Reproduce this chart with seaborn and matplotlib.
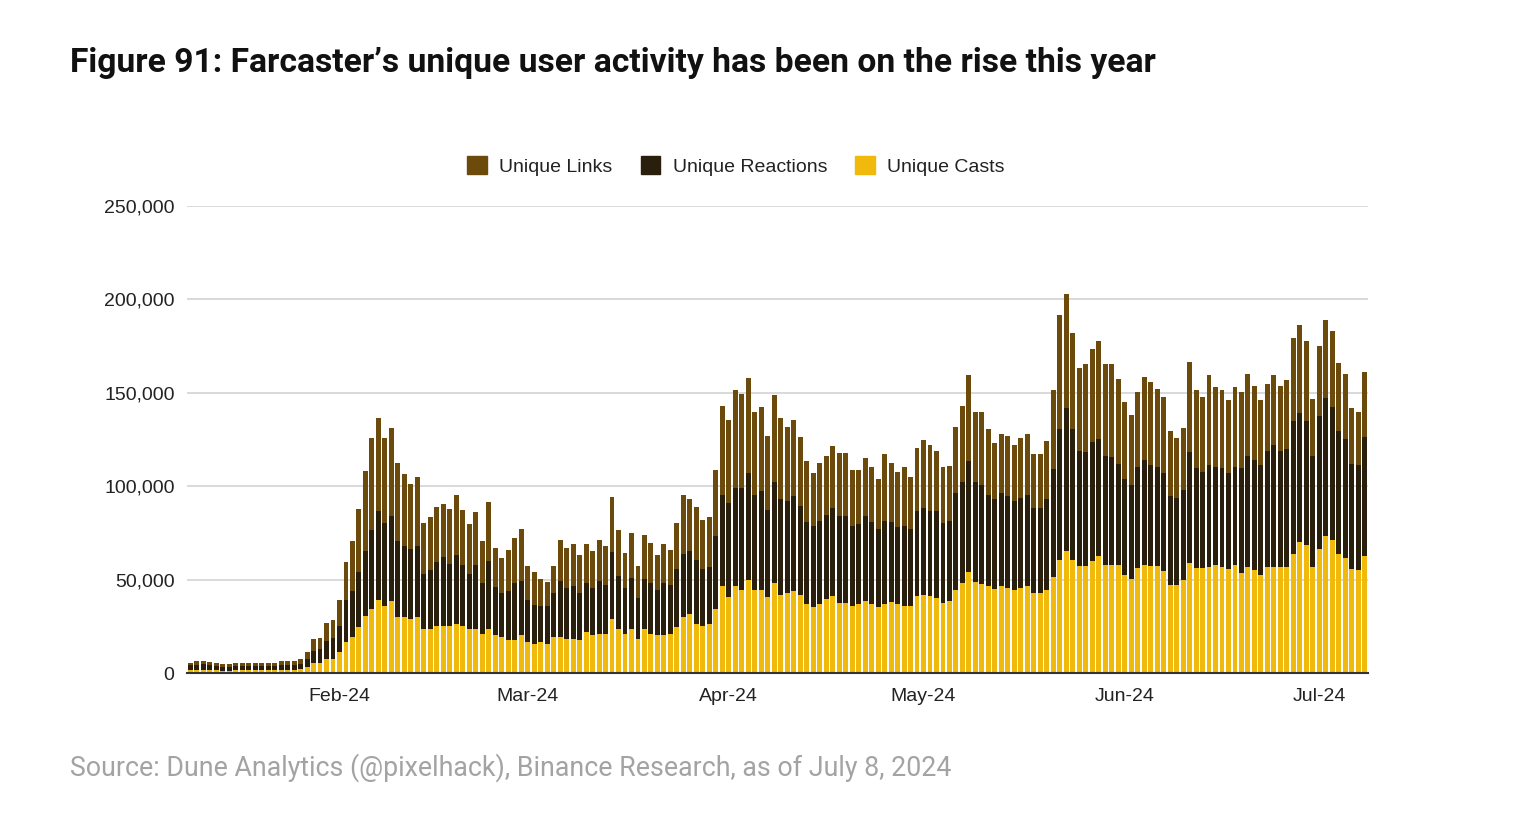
import numpy as np
import pandas as pd
import matplotlib
matplotlib.use("Agg")
import matplotlib.pyplot as plt
import matplotlib.patches as mpatches
from matplotlib.ticker import FuncFormatter
import seaborn as sns

# ---------------- data ----------------
start_date = "2024-01-09"
end_date = "2024-07-08"

unique_casts = [
    1400, 1500, 1500, 1400, 1400, 1300, 1300, 1400, 1400, 1400, 1400, 1400, 1400, 1500, 1600, 1600, 1600, 2300, 3400, 5200,
    5200, 7500, 7500, 11300, 16600, 19300, 24600, 30700, 34300, 39300, 36100, 38400, 29800, 29800, 28900, 29800, 23600, 23600, 25400, 25400,
    25400, 26300, 25400, 23600, 23600, 21100, 23600, 20200, 19300, 17500, 17500, 20200, 16600, 15700, 16600, 15700, 19300, 19300, 18400, 18400,
    17500, 22000, 20200, 21100, 21100, 28900, 23600, 21100, 23600, 18400, 23600, 21100, 20200, 20200, 21100, 24600, 29800, 31600, 26300, 25400,
    26300, 34300, 46400, 40500, 46400, 44600, 50000, 44600, 44600, 40500, 48200, 42000, 42900, 43800, 42000, 37000, 35400, 37000, 39600, 41100,
    37500, 37500, 36100, 37000, 38400, 37000, 35400, 37000, 37900, 37000, 36100, 36100, 41200, 42000, 41100, 40200, 37500, 38400, 44600, 48200,
    53900, 48600, 47700, 46400, 45000, 46400, 45500, 44600, 45500, 46400, 42900, 42900, 44600, 51400, 60700, 65200, 60700, 57100, 57100, 59800,
    62500, 58000, 58000, 58000, 52700, 50400, 56300, 58000, 57100, 57100, 54500, 47300, 47300, 50000, 58900, 56300, 56100, 57000, 57700, 56800,
    55900, 57700, 53600, 56800, 55400, 52700, 56800, 56800, 56800, 56800, 63900, 70200, 68400, 56800, 66600, 73600, 71100, 63900, 61300, 55900,
    55400, 62500,
]

unique_reactions = [
    2700, 2800, 3100, 2900, 2200, 1900, 1900, 2400, 2400, 2400, 2400, 2200, 2400, 2300, 2700, 2700, 2500, 2700, 4000, 6800,
    7500, 9800, 11500, 14100, 22700, 24500, 29500, 34800, 42500, 47300, 44300, 45500, 41100, 38400, 37700, 38400, 29600, 31800, 34100, 36600,
    33200, 36700, 32300, 29600, 34100, 27100, 36200, 25700, 23600, 26300, 30700, 28900, 22700, 20900, 19100, 20000, 23600, 29800, 27100, 28000,
    25400, 26200, 25300, 28000, 26200, 35700, 28200, 24400, 27300, 21800, 26800, 27100, 24400, 28000, 26200, 31300, 34000, 33900, 34100, 30500,
    30500, 39300, 49100, 50600, 52700, 54500, 56800, 50900, 52700, 47000, 54300, 50900, 49100, 50800, 47300, 43700, 43500, 44600, 45200, 47300,
    46400, 46400, 42500, 42500, 45500, 43700, 41700, 44600, 42800, 41000, 42500, 41000, 45600, 46400, 45500, 46400, 42900, 42900, 51500, 53900,
    59500, 53500, 52800, 49100, 47900, 50000, 49100, 47400, 48300, 49100, 45500, 45500, 48300, 57900, 70000, 76800, 70000, 62000, 61100, 63800,
    62900, 58400, 57700, 54100, 51400, 50500, 54100, 55900, 54200, 53300, 52300, 47300, 46500, 48200, 59300, 53200, 51600, 54200, 52700, 52700,
    50900, 52700, 55900, 59600, 58400, 58400, 62300, 65000, 62300, 63200, 70900, 69100, 66400, 59600, 70900, 73400, 71400, 65900, 64100, 56200,
    55700, 63800,
]

unique_links = [
    1400, 2100, 1800, 1500, 1900, 1600, 1600, 1700, 1700, 1700, 1700, 1900, 1700, 1700, 2100, 2100, 2300, 2500, 3600, 6000,
    6300, 9300, 9400, 13500, 20000, 26700, 33900, 42500, 49100, 49700, 45500, 47000, 41600, 38100, 34700, 36600, 27200, 28200, 29400, 28700,
    29400, 32200, 29400, 26300, 28600, 22300, 31800, 21100, 18700, 22300, 24100, 28200, 18200, 17300, 14700, 12900, 14600, 22300, 21500, 22400,
    20500, 20600, 19700, 22300, 20600, 29500, 25000, 18800, 24100, 17300, 23700, 21400, 18800, 20600, 18800, 24500, 31400, 27700, 28500, 25900,
    26800, 35300, 47700, 44300, 52200, 50400, 51200, 44300, 45200, 39300, 46100, 43400, 39800, 40800, 37100, 32700, 28200, 30900, 31300, 33000,
    34000, 34000, 30300, 29400, 31300, 29500, 26500, 35400, 31800, 29500, 31600, 27700, 33700, 36600, 35700, 32200, 29800, 29400, 35700, 41100,
    45900, 37700, 39300, 34900, 30300, 31800, 32200, 30300, 32100, 32200, 28600, 28600, 31200, 42000, 60700, 61000, 51100, 44300, 47300, 49600,
    52300, 49100, 49800, 45400, 41100, 37100, 40100, 44500, 44400, 41700, 40900, 34900, 32100, 33100, 48200, 41800, 40000, 48100, 42600, 41800,
    39100, 42600, 40900, 43800, 40100, 34800, 35700, 37500, 34800, 36600, 44300, 47000, 42900, 30400, 37500, 41900, 40500, 36300, 34800, 29500,
    28700, 34800,
]

series_names = ["Unique Links", "Unique Reactions", "Unique Casts"]
series_colors = ["#6B4A0C", "#2A1F0C", "#F0B90B"]
y_ticks = [0, 50000, 100000, 150000, 200000, 250000]

title_text = "Figure 91: Farcaster\u2019s unique user activity has been on the rise this year"
source_text = "Source: Dune Analytics (@pixelhack), Binance Research, as of July 8, 2024"

# ---------------- frame ----------------
dates = pd.date_range(start_date, end_date, freq="D")
df = pd.DataFrame({
    "date": dates.strftime("%Y-%m-%d"),
    "casts": unique_casts,
    "reactions": unique_reactions,
    "links": unique_links,
})
df["cum_casts"] = df["casts"]
df["cum_reactions"] = df["casts"] + df["reactions"]
df["cum_links"] = df["cum_reactions"] + df["links"]

sns.set_theme(style="white")
plt.rcParams["font.family"] = ["Liberation Sans", "DejaVu Sans"]

W, H = 1514, 826
fig = plt.figure(figsize=(W / 100, H / 100), dpi=100)
ax = fig.add_axes([187 / W, 1 - 673 / H, (1368 - 187) / W, (673 - 206) / H])

bar_w = 0.76
for col, color in zip(["cum_links", "cum_reactions", "cum_casts"], series_colors):
    sns.barplot(data=df, x="date", y=col, color=color, saturation=1, width=bar_w,
                linewidth=0, edgecolor="none", ax=ax, order=list(df["date"]))

ax.set_xlim(-0.5, len(df) - 0.5)
ax.set_ylim(0, 250000)
ax.set_yticks(y_ticks)
ax.yaxis.set_major_formatter(FuncFormatter(lambda v, p: f"{int(v):,}"))
ax.yaxis.grid(True, color="#cfcfcf", linewidth=1.1)
ax.set_axisbelow(True)

month_idx = [i for i, d in enumerate(dates) if d.day == 1]
ax.set_xticks(month_idx)
ax.set_xticklabels([dates[i].strftime("%b-%y") for i in month_idx])

ax.set_xlabel("")
ax.set_ylabel("")
for s in ["top", "right", "left"]:
    ax.spines[s].set_visible(False)
ax.spines["bottom"].set_color("#333333")
ax.spines["bottom"].set_linewidth(1.5)
ax.tick_params(axis="both", length=0, labelsize=14, colors="#222222")
ax.tick_params(axis="y", pad=9)
ax.tick_params(axis="x", pad=10.5)

handles = [mpatches.Patch(color=c, label=n) for n, c in zip(series_names, series_colors)]
fig.legend(handles=handles, loc="center", bbox_to_anchor=(736 / W, 1 - 166 / H), ncol=3,
           frameon=False, fontsize=14, handlelength=1.0, handleheight=1.0,
           handletextpad=0.65, columnspacing=1.45, labelcolor="#222222")

# Title & source, fit to reference widths
fig.canvas.draw()
renderer = fig.canvas.get_renderer()

def fit_text(x_px, y_px, text, target_w, size, **kw):
    t = fig.text(x_px / W, 1 - y_px / H, text, va="center", ha="left", fontsize=size, **kw)
    w = t.get_window_extent(renderer=renderer).width
    t.set_fontsize(size * target_w / w)
    return t

fit_text(70, 63, title_text, 1083, 20, fontweight="bold", color="#111111", family=["Roboto", "DejaVu Sans"])
fit_text(70, 768, source_text, 880, 17, color="#a3a3a3", family=["Roboto", "DejaVu Sans"])

fig.savefig("out.png", dpi=100)
